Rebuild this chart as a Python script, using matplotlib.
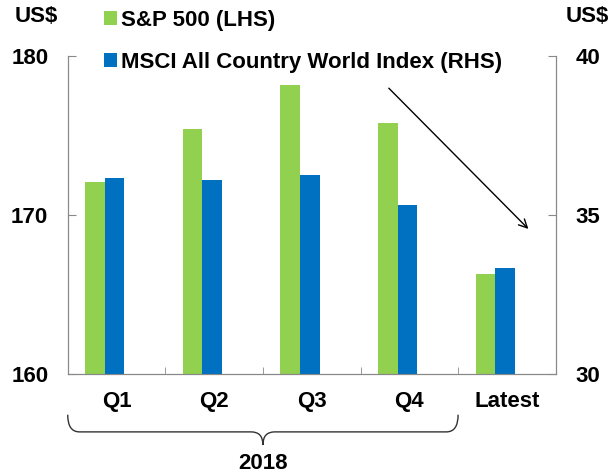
import numpy as np
import matplotlib
matplotlib.use("Agg")
import matplotlib.pyplot as plt
from matplotlib.path import Path
from matplotlib.patches import PathPatch
import matplotlib.transforms as mtransforms

categories = ["Q1", "Q2", "Q3", "Q4", "Latest"]
sp500 = [172.1, 175.4, 178.2, 175.8, 166.3]
msci_acwi = [36.17, 36.11, 36.27, 35.32, 33.34]

GREEN = "#92D050"
BLUE = "#0070C0"
SPINE = "#888888"

plt.rcParams["font.family"] = ["Liberation Sans", "DejaVu Sans"]
plt.rcParams["font.weight"] = "bold"
FS = 16

fig = plt.figure(figsize=(6.1, 4.75), dpi=100)
ax = fig.add_axes([0.111, 0.2126, 0.8, 0.6695])
ax2 = ax.twinx()

x = np.arange(len(categories))
w = 0.2
b1 = ax.bar(x - 0.22, sp500, width=w, color=GREEN, label="S&P 500 (LHS)")
b2 = ax2.bar(x - 0.02, msci_acwi, width=w, color=BLUE, label="MSCI All Country World Index (RHS)")

ax.set_xlim(-0.5, 4.5)
ax.set_ylim(160, 180)
ax2.set_ylim(30, 40)
ax.set_yticks([160, 170, 180])
ax2.set_yticks([30, 35, 40])

ax.set_xticks(x)
ax.set_xticklabels(categories)
ax.set_xticks(np.arange(-0.5, 4.6, 1), minor=True)
ax.tick_params(axis="x", which="major", length=0, pad=12, labelsize=FS)
ax.tick_params(axis="x", which="minor", direction="in", length=5, color=SPINE)
ax.tick_params(axis="y", direction="in", length=6, color=SPINE, labelsize=FS, pad=14)
ax2.tick_params(axis="y", direction="in", length=6, color=SPINE, labelsize=FS, pad=14)

for a in (ax, ax2):
    a.spines["top"].set_visible(False)
    for s in ("left", "right", "bottom"):
        a.spines[s].set_color(SPINE)

# axis unit labels
fig.text(15 / 610, 1 - 17 / 475, "US$", fontsize=FS, va="center", ha="left")
fig.text(1 - 1 / 610, 1 - 17 / 475, "US$", fontsize=FS, va="center", ha="right")

# legend
fig.legend(handles=[b1, b2], loc="upper left", bbox_to_anchor=(0.148, 1.008),
           frameon=False, fontsize=FS, handlelength=0.6, handleheight=0.6,
           handletextpad=0.2, labelspacing=0.95, borderaxespad=0.2)

# downward arrow
ax.annotate("", xy=(4.24, 169.0), xytext=(2.77, 178.1),
            arrowprops=dict(arrowstyle="->", color="black", lw=1, mutation_scale=15))

# brace under Q1-Q4
trans = mtransforms.blended_transform_factory(ax.transData, ax.transAxes)
x0, x1, xm = -0.5, 3.5, 1.5
yt, yl, yp = -0.128, -0.182, -0.223
verts = [(x0, yt), (x0, yl), (x0 + 0.12, yl),
         (xm - 0.12, yl), (xm, yl), (xm, yp),
         (xm, yl), (xm + 0.12, yl),
         (x1 - 0.12, yl), (x1, yl), (x1, yt)]
codes = [Path.MOVETO, Path.CURVE3, Path.CURVE3,
         Path.LINETO, Path.CURVE3, Path.CURVE3,
         Path.CURVE3, Path.CURVE3,
         Path.LINETO, Path.CURVE3, Path.CURVE3]
brace = PathPatch(Path(verts, codes), transform=trans, fill=False,
                  lw=1, color="#333333", clip_on=False)
ax.add_patch(brace)
ax.text(xm, -0.28, "2018", transform=trans, ha="center", va="center", fontsize=FS)

fig.savefig("out.png", dpi=100)
